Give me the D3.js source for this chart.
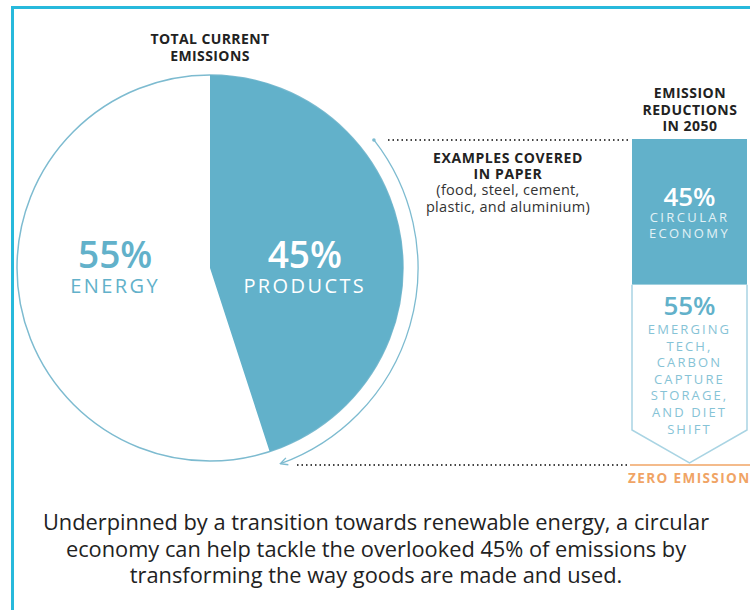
<!DOCTYPE html>
<html>
<head>
<meta charset="utf-8">
<script src="https://cdn.jsdelivr.net/npm/d3@7"></script>
<style>
  body { margin: 0; background: #fff; }
  svg { display: block; font-family: "Open Sans", sans-serif; }
</style>
</head>
<body>
<div id="chart"></div>
<script>
// current emissions split (pie), clockwise from 12 o'clock
var pieNames = ["PRODUCTS", "ENERGY"];
var pieShares = [45, 55];
// reductions needed by 2050 (stacked column, top to bottom)
var stackShares = [45, 55];
var stackLabels = [["CIRCULAR", "ECONOMY"], ["EMERGING", "TECH,", "CARBON", "CAPTURE", "STORAGE,", "AND DIET", "SHIFT"]];
var caption = ["Underpinned by a transition towards renewable energy, a circular",
               "economy can help tackle the overlooked 45% of emissions by",
               "transforming the way goods are made and used."];

var width = 750, height = 610;
var blue = '#62b1ca',
    pale = '#a9d4e3',
    dark = '#222',
    orange = '#f0a465';

var svg = d3.select('#chart').append('svg').attr('width', width).attr('height', height);

// frame (only left and top edges are in view)
svg.append('path').attr('d', 'M12.5,610 V7.5 H750').attr('fill', 'none')
   .attr('stroke', '#27b9dc').attr('stroke-width', 3);

var cx = 210, cy = 268, r = 193;
var pieData = pieNames.map(function(n, i) { return { name: n, value: pieShares[i] }; });
var pie = d3.pie().sort(null).value(function(d) { return d.value; });
var arc = d3.arc().innerRadius(0).outerRadius(r);
var labelArc = d3.arc().innerRadius(96).outerRadius(96);

var gPie = svg.append('g').attr('transform', 'translate(' + cx + ',' + cy + ')');
gPie.append('circle').attr('r', r).attr('fill', '#fff').attr('stroke', '#7dbbd0').attr('stroke-width', 1.5);
var slices = gPie.selectAll('.slice').data(pie(pieData)).enter().append('g').attr('class', 'slice');
slices.append('path').attr('d', arc).attr('fill', function(d, i) { return i === 0 ? blue : 'none'; });
// labels sit on one row, x taken from each slice's centroid
slices.append('text').attr('text-anchor', 'middle')
  .attr('x', function(d) { return labelArc.centroid(d)[0]; })
  .attr('y', 0)
  .attr('font-size', 37).attr('font-weight', 600)
  .attr('fill', function(d, i) { return i === 0 ? '#fff' : blue; })
  .text(function(d) { return d.data.value + '%'; });
slices.append('text').attr('text-anchor', 'middle')
  .attr('x', function(d) { return labelArc.centroid(d)[0]; })
  .attr('y', 25)
  .attr('font-size', 20).attr('letter-spacing', 2.4)
  .attr('fill', function(d, i) { return i === 0 ? '#fff' : blue; })
  .text(function(d) { return d.data.name; });

// arrow arc hugging the products slice
svg.append('defs').append('marker').attr('id', 'head').attr('viewBox', '0 0 10 10')
  .attr('refX', 8).attr('refY', 5).attr('markerWidth', 7).attr('markerHeight', 7).attr('orient', 'auto')
  .append('path').attr('d', 'M1,1 L9,5 L1,9').attr('fill', 'none').attr('stroke', '#7dbbd0').attr('stroke-width', 1.5);
var a0 = 52 * Math.PI / 180, a1 = 160 * Math.PI / 180, ra = 208;
var arcLine = d3.path();
arcLine.arc(cx, cy, ra, a0 - Math.PI / 2, a1 - Math.PI / 2);
svg.append('path').attr('d', arcLine.toString().replace(/^M[^A]*/, 'M' + (cx + ra * Math.sin(a0)) + ',' + (cy - ra * Math.cos(a0))))
  .attr('fill', 'none').attr('stroke', '#7dbbd0').attr('stroke-width', 1.3).attr('marker-end', 'url(#head)');
svg.append('circle').attr('cx', cx + ra * Math.sin(a0)).attr('cy', cy - ra * Math.cos(a0)).attr('r', 1.8).attr('fill', '#7dbbd0');

// stacked reduction column
var x0 = 632, x1 = 747, xm = (x0 + x1) / 2;
var y = d3.scaleLinear().domain([0, 100]).range([139, 463]);
var cum = d3.cumsum(stackShares);
var tip = 33;
svg.append('rect').attr('x', x0).attr('y', y(0)).attr('width', x1 - x0).attr('height', y(cum[0]) - y(0)).attr('fill', blue);
svg.append('path')
  .attr('d', 'M' + x0 + ',' + y(cum[0]) + ' V' + (y(cum[1]) - tip) + ' L' + xm + ',' + y(cum[1]) +
             ' L' + x1 + ',' + (y(cum[1]) - tip) + ' V' + y(cum[0]))
  .attr('fill', '#fff').attr('stroke', pale).attr('stroke-width', 1.5);

svg.append('text').attr('x', xm).attr('y', 206).attr('text-anchor', 'middle').attr('font-size', 26)
  .attr('font-weight', 600).attr('fill', '#fff').text(stackShares[0] + '%');
stackLabels[0].forEach(function(t, i) {
  svg.append('text').attr('x', xm).attr('y', 222 + i * 15.5).attr('text-anchor', 'middle').attr('font-size', 13)
    .attr('letter-spacing', 2.4).attr('fill', '#e2f1f6').text(t);
});
svg.append('text').attr('x', xm).attr('y', 315).attr('text-anchor', 'middle').attr('font-size', 26)
  .attr('font-weight', 600).attr('fill', blue).text(stackShares[1] + '%');
stackLabels[1].forEach(function(t, i) {
  svg.append('text').attr('x', xm).attr('y', 334 + i * 16.6).attr('text-anchor', 'middle').attr('font-size', 13)
    .attr('letter-spacing', 2.1).attr('fill', '#86c3d6').text(t);
});

// dotted guides and baseline
svg.append('line').attr('x1', 388).attr('x2', 628).attr('y1', 140).attr('y2', 140)
  .attr('stroke', '#444').attr('stroke-width', 2).attr('stroke-dasharray', '1.5 3');
svg.append('line').attr('x1', 297).attr('x2', 628).attr('y1', 465).attr('y2', 465)
  .attr('stroke', '#444').attr('stroke-width', 2).attr('stroke-dasharray', '1.5 3');
svg.append('line').attr('x1', 630).attr('x2', 750).attr('y1', 465).attr('y2', 465)
  .attr('stroke', orange).attr('stroke-width', 1.5);
svg.append('text').attr('x', 628).attr('y', 483).attr('font-size', 13.5).attr('font-weight', 700)
  .attr('letter-spacing', 1.4).attr('fill', orange).text('ZERO EMISSIONS');

// headings
function lines(arr, x, y0, dy, size, weight, color, ls) {
  arr.forEach(function(t, i) {
    svg.append('text').attr('x', x).attr('y', y0 + i * dy).attr('text-anchor', 'middle')
      .attr('font-size', size).attr('font-weight', weight).attr('fill', color)
      .attr('letter-spacing', ls || 0).text(t);
  });
}
lines(["TOTAL CURRENT", "EMISSIONS"], 210, 44, 16.5, 14, 700, dark, 0.4);
lines(["EMISSION", "REDUCTIONS", "IN 2050"], 690, 98, 16.5, 14, 700, dark, 0.5);
lines(["EXAMPLES COVERED", "IN PAPER"], 508, 163, 16, 14, 700, dark, 0.6);
lines(["(food, steel, cement,", "plastic, and aluminium)"], 508, 195, 16.5, 14.5, 400, '#333', 0.3);
lines(caption, 376, 530, 26.5, 21.8, 400, '#222');
</script>
</body>
</html>
